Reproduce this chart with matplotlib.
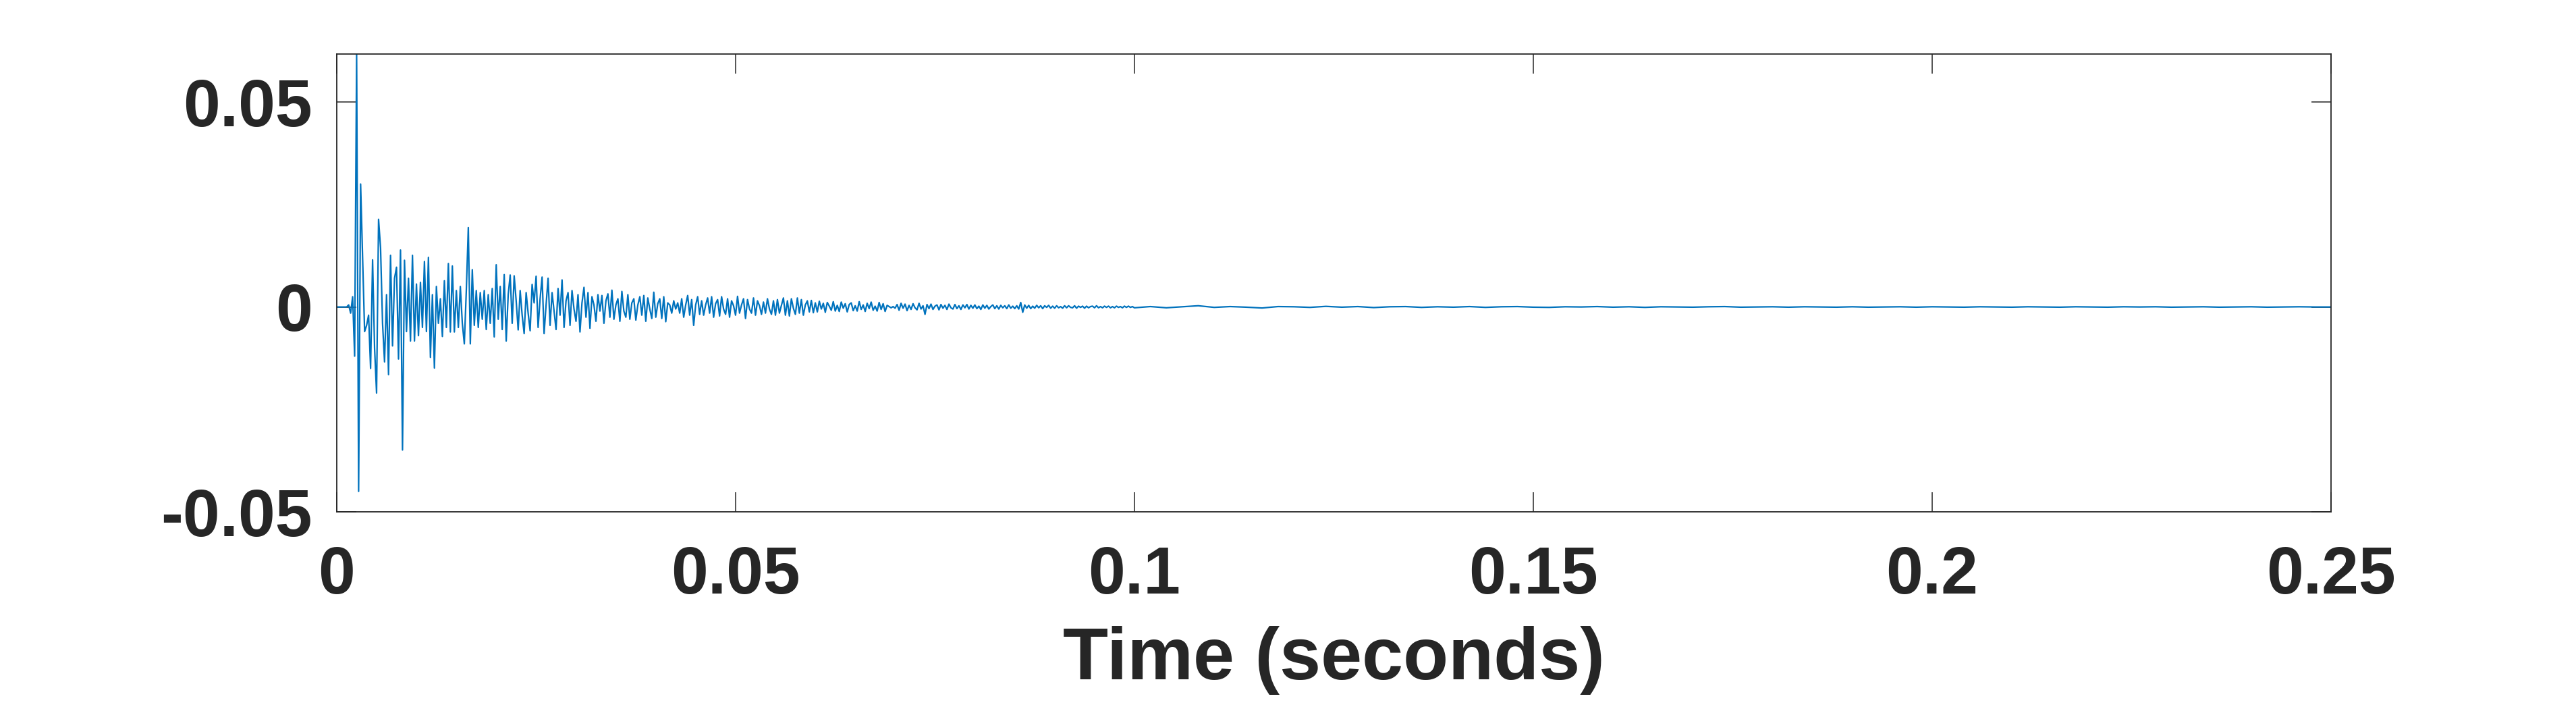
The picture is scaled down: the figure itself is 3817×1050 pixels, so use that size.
import numpy as np
import matplotlib
matplotlib.use("Agg")
import matplotlib.pyplot as plt

# room impulse response (units of 1e-3)
# early part: 0 .. 60 ms, one value every 0.25 ms
early_step_ms = 0.25
early_amp = [
    0.0, 0.0, 0.0, 0.0, 0.0, 0.0, 0.5, -1.5,
    2.5, -12.0, 61.7, -45.0, 30.0, 12.0, -6.0, -4.5,
    -2.0, -15.0, 11.5, -10.0, -21.0, 21.4, 14.4, -4.0,
    -13.4, 3.0, -16.5, 12.6, -9.5, 7.0, 9.7, -12.7,
    13.9, -34.9, 11.4, -6.0, 7.0, -8.3, 12.6, -8.3,
    5.6, -7.0, 6.0, -5.0, 11.1, -6.0, 12.1, -12.3,
    3.0, -14.9, 5.0, -4.0, 2.0, -7.2, 6.4, -5.0,
    10.6, -6.1, 10.0, -6.1, 4.0, -5.0, 5.0, -4.0,
    -9.0, 4.0, 19.4, -9.0, 9.1, -4.5, 4.0, -5.0,
    3.5, -3.0, 4.0, -5.5, 3.0, -4.0, 4.5, -7.3,
    10.3, -3.0, 5.0, -5.5, 7.9, -8.3, 3.0, 7.8,
    -4.0, 7.6, 1.5, -5.6, 4.0, -2.0, -6.5, 3.5,
    -1.5, -5.8, 5.5, 1.0, 7.5, -5.0, 2.0, 7.3,
    -6.5, 0.5, 7.0, -4.5, 3.5, -1.0, -5.5, 4.5,
    -2.0, 6.6, -5.0, 1.5, 3.5, -4.5, 4.0, -0.5,
    -3.5, 3.0, -6.1, 1.0, 4.8, -2.5, 3.5, -5.2,
    2.5, 0.5, -3.5, 3.0, -1.0, 2.8, -4.0, 1.5,
    3.2, -2.5, 4.1, -3.0, 0.5, 2.0, -3.5, 3.8,
    -1.0, -2.5, 3.0, -3.0, 1.0, 2.0, -3.2, 0.5,
    2.5, -2.0, 2.8, -3.5, 2.2, -0.5, -2.8, 3.6,
    -2.5, 0.8, 2.0, -2.8, 2.5, -3.6, 1.0, 0.5,
    -1.5, 1.5, -0.5, 1.0, -1.5, 2.0, -2.5, 0.5,
    2.8, -2.0, 1.8, -4.5, 0.5, 2.5, -1.8, 1.5,
    -2.0, 0.5, 2.2, -1.5, 2.5, -2.5, 0.8, 1.8,
    -2.2, 2.5, -0.5, -1.8, 2.0, -2.5, 1.5, 0.3,
    -2.0, 2.6, -1.5, 0.5, 2.0, -2.8, 1.8, -0.5,
    -1.5, 2.2, -2.0, 1.5, 0.3, -1.8, 1.2, -1.5,
    2.0, -0.5, -1.8, 1.5, -2.0, 1.8, -1.5, 0.4,
    2.2, -2.0, 1.5, -2.2, 2.0, -0.3, -1.8, 2.2,
    -1.5, 1.8, -2.0, 0.5, 1.5, -1.2, 1.6, -1.4,
    1.0,
]

# middle part: 60.25 .. 100 ms, one value every 0.25 ms
mid_start_ms = 60.25
mid_step_ms = 0.25
mid_amp = [
    -1.2, 1.4, -0.5, 0.9, -1.3, 1.1, 0.2, -0.8,
    1.3, -1.0, 0.4, -1.1, 1.2, -0.3, 0.8, -1.2,
    0.6, 1.0, -0.9, 0.3, -1.0, 1.3, -0.6, 0.5,
    -1.1, 0.9, -0.4, 1.2, -0.8, 0.2, -1.0, 1.1,
    -0.6, 0.8, -1.1, 0.4, 0.1, -0.2, 0.1, -0.3,
    0.6, -0.8, 0.9, -0.3, 0.7, -0.9, 0.4, -0.6,
    0.8, -0.2, -0.7, 0.9, -0.5, 0.3, -1.8, 0.6,
    -0.4, 0.7, -0.6, 0.2, 0.5, -0.7, 0.6, -0.3,
    0.4, -0.6, 0.7, -0.2, -0.5, 0.6, -0.4, 0.3,
    -0.6, 0.5, -0.2, 0.6, -0.5, 0.4, -0.3, 0.5,
    -0.4, 0.2, -0.6, 0.5, -0.3, 0.4, -0.5, 0.1,
    0.5, -0.4, 0.3, -0.5, 0.4, -0.2, 0.3, -0.4,
    0.5, -0.3, 0.2, -0.4, 0.3, -0.5, 1.1, -1.3,
    0.5, -0.3, 0.4, -0.4, 0.2, -0.3, 0.4, -0.2,
    0.3, -0.4, 0.3, -0.1, 0.4, -0.3, 0.2, -0.3,
    0.3, -0.2, 0.1, -0.3, 0.3, -0.2, 0.3, -0.1,
    -0.2, 0.3, -0.3, 0.2, -0.1, 0.2, -0.3, 0.2,
    -0.2, 0.1, 0.2, -0.2, 0.3, -0.2, 0.1, -0.2,
    0.2, -0.1, 0.2, -0.2, 0.1, -0.2, 0.2, -0.1,
    0.1, -0.2, 0.2, -0.1, 0.2, -0.1, 0.1, -0.2,
]

# tail: 102 .. 250 ms, one value every 2 ms
tail_start_ms = 102.0
tail_step_ms = 2.0
tail_amp = [
    0.1, -0.2, 0.05, 0.3, -0.1, 0.1, -0.05, -0.25, 0.1, 0.05,
    -0.1, 0.15, -0.05, 0.1, -0.15, 0.05, 0.1, -0.1, 0.05, -0.05,
    0.1, -0.1, 0.05, 0.1, -0.05, -0.1, 0.05, 0.0, 0.1, -0.05,
    0.05, -0.1, 0.05, 0.0, -0.05, 0.05, 0.1, -0.05, 0.0, 0.05,
    -0.05, 0.05, 0.0, -0.05, 0.05, -0.05, 0.0, 0.05, -0.05, 0.05,
    0.0, -0.05, 0.05, 0.0, -0.05, 0.05, 0.0, -0.05, 0.05, 0.0,
    -0.05, 0.05, 0.0, 0.05, -0.05, 0.0, 0.05, -0.05, 0.0, 0.05,
    -0.05, 0.0, 0.05, 0.0, 0.0,
]

xticks = [0, 0.05, 0.1, 0.15, 0.2, 0.25]
xtick_labels = ["0", "0.05", "0.1", "0.15", "0.2", "0.25"]
yticks = [-0.05, 0, 0.05]
ytick_labels = ["-0.05", "0", "0.05"]

t_ms = np.concatenate([
    np.arange(len(early_amp)) * early_step_ms,
    mid_start_ms + np.arange(len(mid_amp)) * mid_step_ms,
    tail_start_ms + np.arange(len(tail_amp)) * tail_step_ms,
])
amp = np.concatenate([early_amp, mid_amp, tail_amp])
t = t_ms / 1000.0
y = amp / 1000.0

plt.rcParams['font.family'] = ['Liberation Sans', 'DejaVu Sans']
dark = '#262626'

fig = plt.figure(figsize=(38.17, 10.5), dpi=100)
ax = fig.add_axes([0.1307, 0.278, 0.7742, 0.6457])
ax.plot(t, y, color='#0072BD', linewidth=1.6)

ax.set_xlim(0, 0.25)
ax.set_ylim(-0.05, 0.0617)
ax.set_xticks(xticks)
ax.set_xticklabels(xtick_labels)
ax.set_yticks(yticks)
ax.set_yticklabels(ytick_labels)

ax.tick_params(direction='in', length=21, width=1.1, colors=dark,
               top=True, right=True, labelsize=71)
ax.tick_params(axis='x', pad=36)
ax.tick_params(axis='y', pad=26)
for lab in ax.get_xticklabels() + ax.get_yticklabels():
    lab.set_fontweight('bold')
for s in ax.spines.values():
    s.set_color(dark)
    s.set_linewidth(1.3)

ax.set_xlabel("Time (seconds)", fontsize=79, fontweight='bold', color=dark, labelpad=20)

fig.savefig("out.png", dpi=100, facecolor='white')
